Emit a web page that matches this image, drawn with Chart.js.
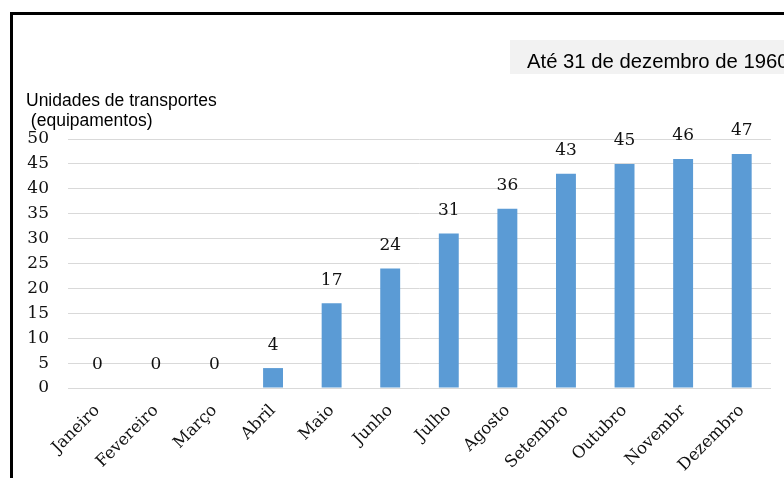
<!DOCTYPE html>
<html><head><meta charset="utf-8">
<script src="https://cdn.jsdelivr.net/npm/chart.js@4.4.1/dist/chart.umd.min.js"></script>
<style>html,body{margin:0;padding:0;background:#fff;}#wrap{width:784px;height:478px;position:relative;}</style>
</head><body><div id="wrap"><canvas id="c" width="784" height="478"></canvas></div>
<script>
const categories = ["Janeiro","Fevereiro","Março","Abril","Maio","Junho","Julho","Agosto","Setembro","Outubro","Novembr","Dezembro"];
const values = [0,0,0,4,17,24,31,36,43,45,46,47];
const yTicks = [0,5,10,15,20,25,30,35,40,45,50];
const titleText = "Até 31 de dezembro de 1960";
const yTitle = ["Unidades de transportes", " (equipamentos)"];

const decor = {
  id: 'decor',
  beforeDraw(chart) {
    const ctx = chart.ctx;
    ctx.save();
    ctx.fillStyle = '#fff';
    ctx.fillRect(0,0,chart.width,chart.height);
    ctx.fillStyle = '#f2f2f2';
    ctx.fillRect(510,40,274,34);
    ctx.strokeStyle = '#000';
    ctx.lineWidth = 3;
    ctx.beginPath();
    ctx.moveTo(11.5,478); ctx.lineTo(11.5,13.5); ctx.lineTo(784,13.5);
    ctx.stroke();
    ctx.fillStyle = '#000';
    ctx.font = '20.3px "Liberation Sans", Arial, sans-serif';
    ctx.textBaseline = 'middle';
    ctx.textAlign = 'left';
    ctx.fillText(titleText, 527, 62);
    ctx.font = '17.5px "Liberation Sans", Arial, sans-serif';
    ctx.fillText(yTitle[0], 26, 101);
    ctx.fillText(yTitle[1], 26, 121);
    ctx.restore();
  },
  afterDatasetsDraw(chart) {
    const ctx = chart.ctx;
    const meta = chart.getDatasetMeta(0);
    ctx.save();
    ctx.fillStyle = '#111';
    ctx.font = '17px "DejaVu Serif", serif';
    ctx.textAlign = 'center';
    ctx.textBaseline = 'middle';
    meta.data.forEach((bar, i) => {
      ctx.fillText(String(values[i]), bar.x, bar.y - 23);
    });
    ctx.restore();
  }
};

new Chart(document.getElementById('c'), {
  type: 'bar',
  data: { labels: categories, datasets: [{ data: values, backgroundColor: '#5b9bd5', barPercentage: 0.68, categoryPercentage: 0.5 }] },
  options: {
    responsive: false, animation: false,
    layout: { padding: { top: 139, right: 13, left: 0, bottom: 0 } },
    plugins: { legend: { display: false }, tooltip: { enabled: false } },
    scales: {
      y: {
        min: 0, max: 50,
        afterBuildTicks(axis){ axis.ticks = yTicks.map(v => ({value: v})); },
        afterFit(axis){ axis.width = 68; },
        border: { display: false },
        grid: { color: '#d9d9d9', drawTicks: false, lineWidth: 1 },
        ticks: { color: '#111', padding: 19, font: { family: '"DejaVu Serif", serif', size: 17 } }
      },
      x: {
        afterFit(axis){ axis.height = 90; },
        border: { display: false },
        grid: { display: false, drawTicks: false },
        ticks: { color: '#111', minRotation: 45, maxRotation: 45, padding: 13, autoSkip: false, font: { family: '"DejaVu Serif", serif', size: 16.5 } }
      }
    }
  },
  plugins: [decor]
});
</script></body></html>
